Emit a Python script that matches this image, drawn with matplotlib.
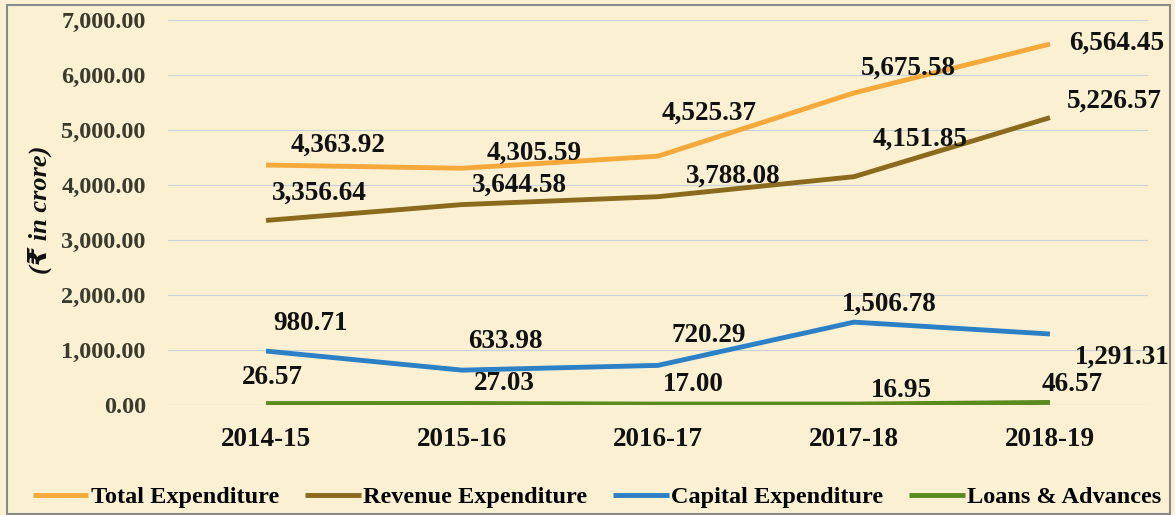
import matplotlib.pyplot as plt
from matplotlib.ticker import FuncFormatter

years = ['2014-15', '2015-16', '2016-17', '2017-18', '2018-19']
total_exp = [4363.92, 4305.59, 4525.37, 5675.58, 6564.45]
revenue_exp = [3356.64, 3644.58, 3788.08, 4151.85, 5226.57]
capital_exp = [980.71, 633.98, 720.29, 1506.78, 1291.31]
loans_adv = [26.57, 27.03, 17.00, 16.95, 46.57]

series = [
    ('Total Expenditure', total_exp, '#F4A93A'),
    ('Revenue Expenditure', revenue_exp, '#8A6A1C'),
    ('Capital Expenditure', capital_exp, '#2C80C6'),
    ('Loans & Advances', loans_adv, '#5B8A1E'),
]

# label offsets in pixels (dx right, dy up) from each point
offsets = {
    'Total Expenditure': [(72, 20), (72, 15), (51, 43), (54, 25), (67, 1)],
    'Revenue Expenditure': [(53, 27), (57, 19), (75, 21), (66, 38), (64, 16)],
    'Capital Expenditure': [(44, 28), (43, 29), (51, 30), (35, 18), (72, -23)],
    'Loans & Advances': [(6, 26), (42, 20), (35, 20), (47, 14), (22, 18)],
}

plt.rcParams['font.family'] = ['Liberation Serif', 'DejaVu Sans']
plt.rcParams['font.weight'] = 'bold'

bg = '#FBF1D2'
fig = plt.figure(figsize=(11.75, 5.15), dpi=100, facecolor=bg)
ax = fig.add_axes([0.143, 0.2136, 0.834, 0.7474])
ax.set_facecolor(bg)

x = list(range(len(years)))
for name, vals, color in series:
    ax.plot(x, vals, color=color, lw=3.5, label=name, solid_capstyle='butt')
    for i, v in enumerate(vals):
        dx, dy = offsets[name][i]
        ax.annotate(f'{v:,.2f}', (i, v), xytext=(dx * 0.72, dy * 0.72), textcoords='offset points',
                    ha='center', va='center', fontsize=19.5, fontweight='bold', color='#111111')

ax.set_xlim(-0.5, 4.5)
ax.set_ylim(0, 7000)
ax.set_yticks(range(0, 7001, 1000))
ax.yaxis.set_major_formatter(FuncFormatter(lambda v, p: f'{v:,.2f}'))
ax.set_xticks(x)
ax.set_xticklabels(years)
ax.tick_params(axis='both', length=0)
ax.tick_params(axis='y', pad=16, labelsize=17.5, labelcolor='#3A3B2E')
ax.tick_params(axis='x', pad=16, labelsize=19.5, labelcolor='#111111')
ax.grid(axis='y', color='#C9D3D8', lw=0.9)
ax.set_axisbelow(True)
for s in ax.spines.values():
    s.set_visible(False)

fig.text(0.034, 0.592, '(₹ in crore)', rotation=90, ha='center', va='center',
         fontsize=19, fontstyle='italic', fontweight='bold', color='#111111')

fig.legend(loc='center', bbox_to_anchor=(0.508, 0.034), ncol=4, frameon=False,
           handlelength=2.3, handletextpad=0.1, columnspacing=1.05,
           prop={'weight': 'bold', 'size': 17.5})

border = plt.Rectangle((0.006, 0.002), 0.99, 0.988, transform=fig.transFigure,
                       fill=False, edgecolor='#8A8A8A', lw=1.5)
fig.add_artist(border)

fig.savefig('out.png', dpi=100, facecolor=bg)
